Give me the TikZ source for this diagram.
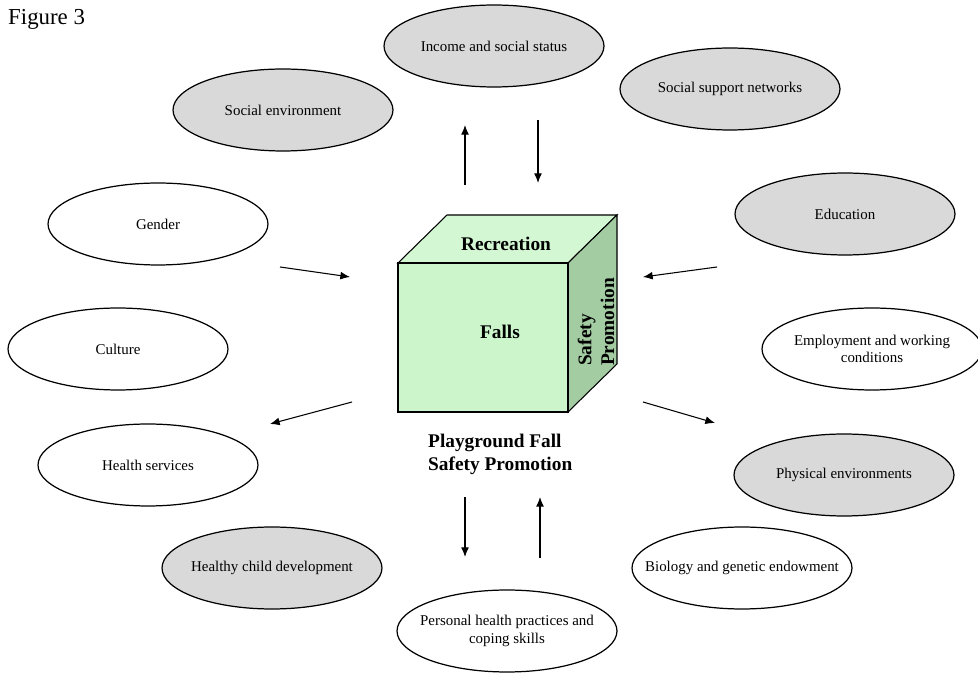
\documentclass[tikz,border=0pt]{standalone}
\usepackage{fontspec}
\setmainfont{Liberation Serif}
\usepackage{xcolor}
\usetikzlibrary{arrows,arrows.meta}
\usetikzlibrary{shapes.geometric}

\definecolor{factorgrey}{HTML}{D9D9D9}
\definecolor{cubefront}{HTML}{CCF5CC}
\definecolor{cubetop}{HTML}{D2F7D2}
\definecolor{cubeside}{HTML}{A3CCA3}

\tikzset{
  factor/.style={ellipse, draw, line width=0.7pt, minimum width=4.4cm,
    minimum height=1.64cm, inner sep=-40pt, align=center,
    font=\fontsize{8.5}{10}\selectfont},
  greyfactor/.style={factor, fill=factorgrey},
  openfactor/.style={factor, fill=white},
  cubetext/.style={font=\fontsize{11}{13}\selectfont\bfseries},
  link/.style={-{Latex[length=5.5pt, width=4.5pt]}, line width=0.6pt},
}

\begin{document}
\begin{tikzpicture}[x=0.02cm, y=-0.02cm]
        \useasboundingbox (0,0) rectangle (978,675);

        \node[anchor=west, font=\fontsize{13}{15}\selectfont] (fig) at (2,19) {Figure 3};

        % determinants round the cube
        \node[greyfactor] (income)  at (494, 46)  {Income and social status};
        \node[greyfactor] (support) at (730, 89)  {Social support networks};
        \node[greyfactor] (socenv)  at (283,110)  {Social environment};
        \node[openfactor] (gender)  at (158,224)  {Gender};
        \node[greyfactor] (educ)    at (845,214)  {Education};
        \node[openfactor] (culture) at (118,349)  {Culture};
        \node[openfactor] (employ)  at (872,349)  {Employment and working\\conditions};
        \node[openfactor] (health)  at (148,465)  {Health services};
        \node[greyfactor] (physenv) at (844,475)  {Physical environments};
        \node[greyfactor] (child)   at (272,568)  {Healthy child development};
        \node[openfactor] (biology) at (742,568)  {Biology and genetic endowment};
        \node[openfactor] (personal) at (507,631) {Personal health practices and\\coping skills};

        % the cube
        \coordinate (fA) at (398,263);
        \coordinate (fB) at (568,263);
        \coordinate (fC) at (568,412);
        \coordinate (fD) at (398,412);
        \coordinate (tA) at (447,215);
        \coordinate (tB) at (617,215);
        \coordinate (sC) at (617,364);

        \draw[fill=cubetop, line width=0.6pt] (fA) -- (tA) -- (tB) -- (fB) -- cycle;
        \draw[fill=cubeside, line width=0.6pt] (fB) -- (tB) -- (sC) -- (fC) -- cycle;
        \draw[fill=cubefront, line width=0.6pt] (fA) -- (fB) -- (fC) -- (fD) -- cycle;

        \node[cubetext] (recr)  at (506,244) {Recreation};
        \node[cubetext] (falls) at (500,332) {Falls};
        \node[cubetext, rotate=90, align=left] (safety) at (596,322) {Safety\\Promotion};
        \node[cubetext, anchor=west, align=left] (caption) at (422,454)
          {Playground Fall\\Safety Promotion};

        % arrows
        \coordinate (upT) at (465,125);  \coordinate (upB) at (465,185);
        \coordinate (dnT) at (538,120);  \coordinate (dnB) at (538,183);
        \coordinate (glS) at (280,267);  \coordinate (glE) at (350,277);
        \coordinate (edS) at (717,267);  \coordinate (edE) at (643,277);
        \coordinate (lwS) at (352,402);  \coordinate (lwE) at (270,424);
        \coordinate (rwS) at (643,402);  \coordinate (rwE) at (715,423);
        \coordinate (bdT) at (465,497);  \coordinate (bdB) at (465,557);
        \coordinate (buB) at (540,558);  \coordinate (buT) at (540,497);

        \draw[link] (upB) to (upT);
        \draw[link] (dnT) to (dnB);
        \draw[link] (glS) to (glE);
        \draw[link] (edS) to (edE);
        \draw[link] (lwS) to (lwE);
        \draw[link] (rwS) to (rwE);
        \draw[link] (bdT) to (bdB);
        \draw[link] (buB) to (buT);
      \end{tikzpicture}
\end{document}
